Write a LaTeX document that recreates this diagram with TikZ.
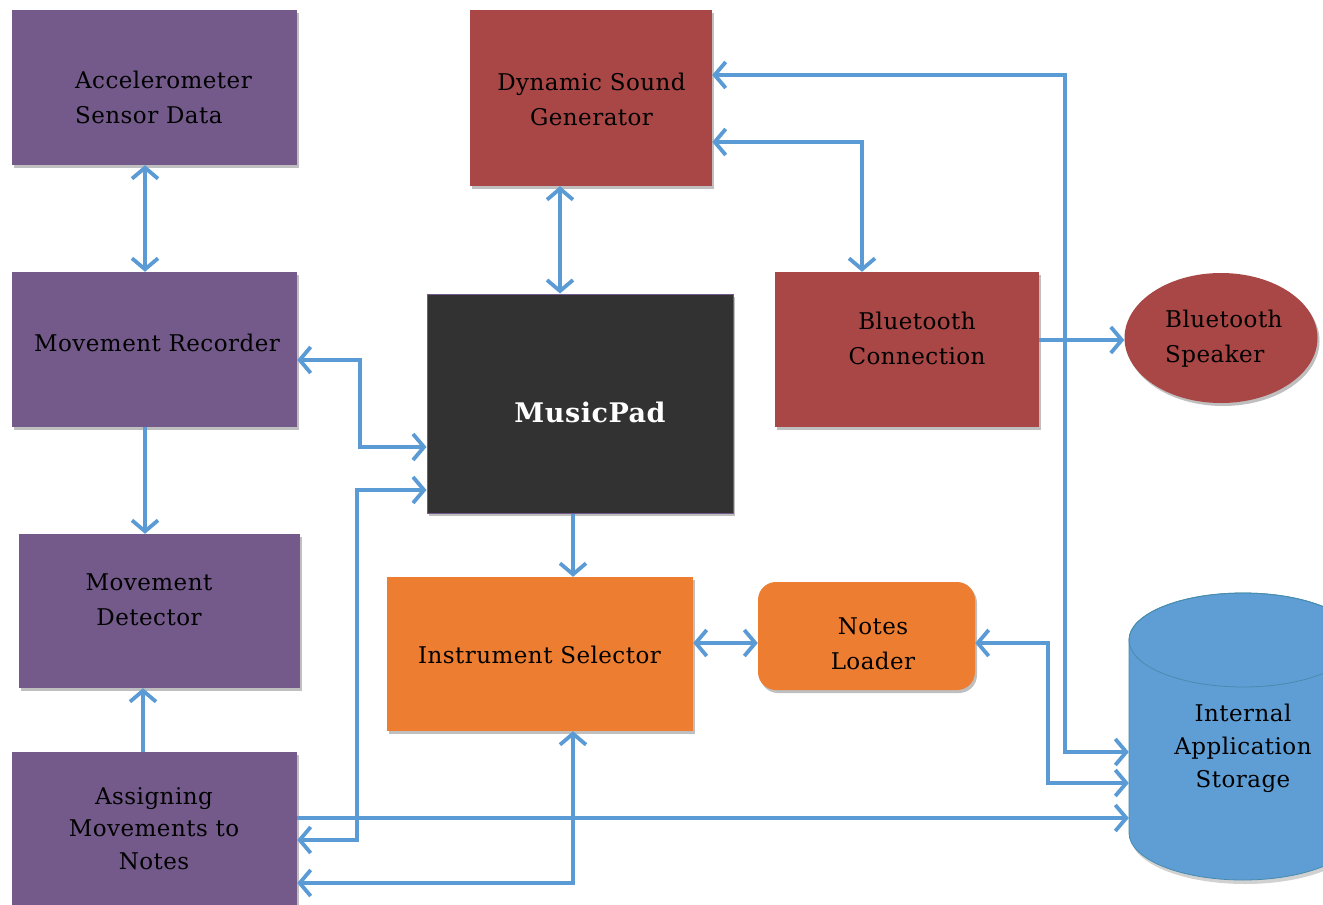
\documentclass[tikz,border=0pt]{standalone}
\usepackage{fontspec}
\setmainfont{DejaVu Serif}[LetterSpace=2]
\usetikzlibrary{arrows.meta,shadows,calc,shapes.geometric}
\definecolor{purp}{RGB}{115,90,138}
\definecolor{redb}{RGB}{168,71,69}
\definecolor{orng}{RGB}{237,125,49}
\definecolor{conn}{RGB}{91,155,213}
\definecolor{cylb}{RGB}{95,158,213}
\definecolor{cyle}{RGB}{70,140,175}
\definecolor{mpfill}{RGB}{50,50,50}
\tikzset{
  box/.style={rectangle, inner sep=0pt,
    drop shadow={shadow xshift=2pt,shadow yshift=-3pt,opacity=0.25,fill=black}},
  pbox/.style={box, fill=purp},
  rbox/.style={box, fill=redb},
  obox/.style={box, fill=orng},
  txt/.style={align=center, inner sep=0pt, text=black, font=\fontsize{23}{35}\selectfont},
  ltxt/.style={txt, align=left, anchor=west},
  tip/.tip={Straight Barb[length=11pt,width=26pt,line width=3.8pt]},
  link/.style={draw=conn, line width=3.8pt, -tip},
  both/.style={draw=conn, line width=3.8pt, tip-tip},
}
\begin{document}
\begin{tikzpicture}[x=1pt,y=-1pt]
\useasboundingbox (0,0) rectangle (1323,905);
\clip (0,0) rectangle (1323,905);
\fill[white] (0,0) rectangle (1323,905);

% storage cylinder
\fill[black,opacity=0.18] (1131,644) -- (1131,837) arc[start angle=180,end angle=360,x radius=114pt,y radius=47pt] -- (1359,644) -- cycle;
\filldraw[fill=cylb,draw=cyle,line width=0.8pt] (1129,640) -- (1129,833) arc[start angle=180,end angle=360,x radius=114pt,y radius=47pt] -- (1357,640) arc[start angle=0,end angle=180,x radius=114pt,y radius=47pt] -- cycle;
\draw[cyle,line width=0.8pt] (1243,640) ellipse[x radius=114pt,y radius=47pt];
\node[rectangle,minimum width=228pt,minimum height=287pt,inner sep=0pt] (sto) at (1243,736.5) {};
\node[txt] (stot) at (1243,748.5) {Internal\\[-2pt]Application\\[-2pt]Storage};

% boxes
\node[pbox,minimum width=285pt,minimum height=155pt] (acc) at (154.5,87.5) {};
\node[pbox,minimum width=285pt,minimum height=155pt] (rec) at (154.5,349.5) {};
\node[pbox,minimum width=281pt,minimum height=154pt] (det) at (159.5,611) {};
\node[pbox,minimum width=285pt,minimum height=155pt] (asg) at (154.5,829.5) {};
\node[rbox,minimum width=242pt,minimum height=176pt] (dsg) at (591,98) {};
\node[box,fill=mpfill,draw=purp,line width=1pt,minimum width=306pt,minimum height=219pt] (mp) at (580,403.5) {};
\node[rbox,minimum width=264pt,minimum height=155pt] (bt) at (907,349.5) {};
\node[rbox,ellipse,minimum width=193pt,minimum height=130pt] (spk) at (1221,338) {};
\node[obox,minimum width=306pt,minimum height=154pt] (ins) at (540,654) {};
\node[obox,rounded corners=18pt,minimum width=217pt,minimum height=108pt] (nl) at (866.5,636) {};

% texts
\node[ltxt] (acct) at (75,97.5) {Accelerometer\\Sensor Data};
\node[txt] (rect) at (157,343) {Movement Recorder};
\node[txt] (dett) at (149,599.5) {Movement\\Detector};
\node[txt] (asgt) at (154,828.5) {Assigning\\[-2.5pt]Movements to\\[-2.5pt]Notes};
\node[txt] (dsgt) at (591.5,99.5) {Dynamic Sound\\Generator};
\node[txt,text=white,font=\fontsize{27}{30}\selectfont\bfseries] (mpt) at (590,412) {MusicPad};
\node[txt] (btt) at (917,338.5) {Bluetooth\\Connection};
\node[ltxt] (spkt) at (1165,338.5) {Bluetooth\\Speaker};
\node[txt] (inst) at (539.5,655) {Instrument Selector};
\node[txt] (nlt) at (873,643.5) {Notes\\Loader};

% connectors
\draw[both] ([xshift=-9.5pt]acc.south) -- ([xshift=-9.5pt]rec.north);
\draw[link] ([xshift=-9.5pt]rec.south) -- ([xshift=-9.5pt]rec.south |- det.north);
\draw[link] ([xshift=-11.5pt]asg.north) -- ([xshift=-11.5pt]asg.north |- det.south);
\draw[both] ([yshift=-10.5pt]rec.east) -| (360,447) -- ([yshift=-43.5pt]mp.west);
\draw[both] ([yshift=-86.5pt]mp.west) -| (357,840) -- ([yshift=-10.5pt]asg.east);
\draw[both] ([xshift=33pt]ins.south) |- ([yshift=-53.5pt]asg.east);
\draw[link] ([yshift=11.5pt]asg.east) -- ([yshift=11.5pt]asg.east -| sto.west);
\draw[link] ([xshift=-7pt]mp.south) -- ([xshift=-7pt]mp.south |- ins.north);
\draw[both] ([yshift=11pt]ins.east) -- ([yshift=11pt]ins.east -| nl.west);
\draw[both] ([yshift=-7pt]nl.east) -| (1048,783) -- (sto.west |- 0,783);
\draw[both] ([yshift=23pt]dsg.east) -| (1065,752) -- (sto.west |- 0,752);
\draw[both] ([yshift=-44pt]dsg.east) -| ([xshift=-45pt]bt.north);
\draw[both] ([xshift=-31pt]dsg.south) -- ([xshift=-31pt]dsg.south |- mp.north);
\draw[link] ([yshift=9.5pt]bt.east) -- ([yshift=9.5pt]bt.east -| spk.west);
\end{tikzpicture}
\end{document}
